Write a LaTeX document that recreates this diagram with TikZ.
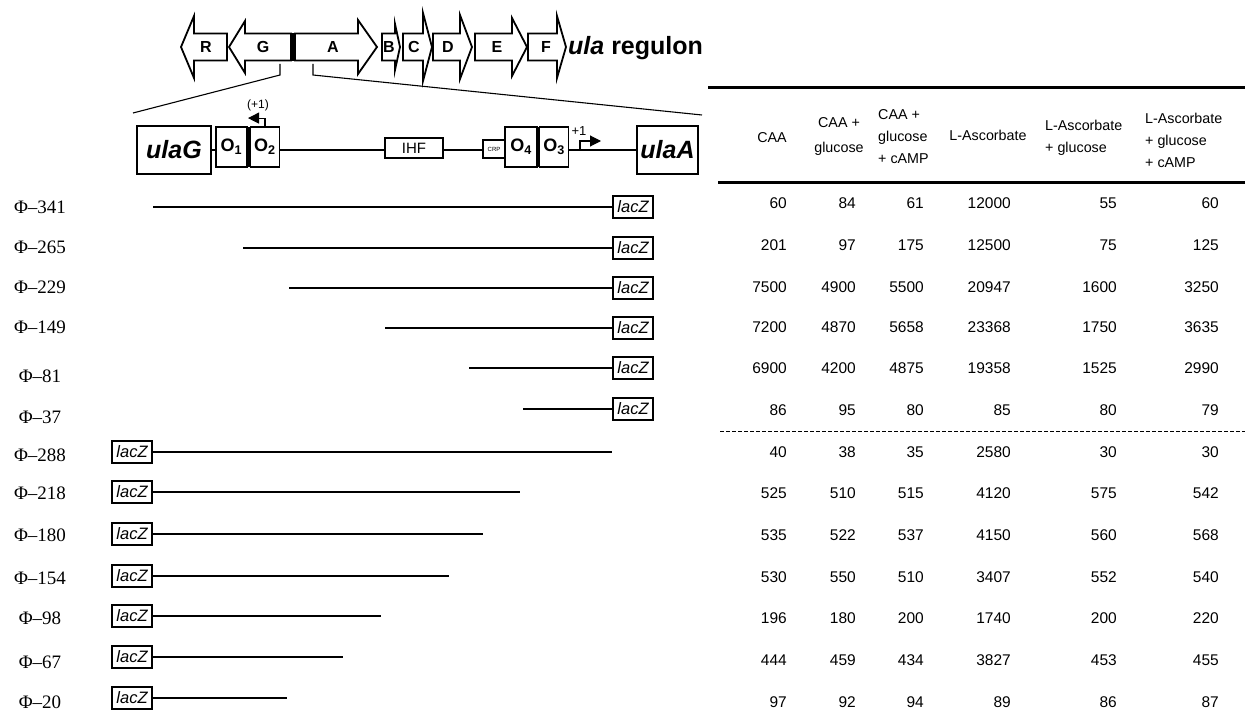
\documentclass[tikz,border=0pt]{standalone}
\usepackage{fontspec}
\setmainfont{Liberation Serif}
\setsansfont{Liberation Sans}
\usetikzlibrary{arrows.meta}
\newcommand\generight[4]{\draw[gene] (#1,33.5) -- (#2,33.5) -- (#2,{47-#4}) -- (#3,47) -- (#2,{47+#4}) -- (#2,60.5) -- (#1,60.5) -- cycle;}
\newcommand\geneleft[4]{\draw[gene] (#3,33.5) -- (#2,33.5) -- (#2,{47-#4}) -- (#1,47) -- (#2,{47+#4}) -- (#2,60.5) -- (#3,60.5) -- cycle;}
\begin{document}
\begin{tikzpicture}[x=1pt,y=-1pt,
  gene/.style={draw, line width=1.8pt, line join=miter, fill=white},
  glabel/.style={font=\sffamily\bfseries\fontsize{16}{16}\selectfont, inner sep=0pt},
  box/.style={draw, line width=1.8pt, inner sep=0pt, fill=white},
  link/.style={line width=1.1pt},
  cline/.style={line width=1.6pt},
  lacz/.style={draw, line width=1.7pt, inner sep=0pt, minimum width=40, minimum height=22, font=\sffamily\itshape\fontsize{16.5}{16.5}\selectfont},
  phil/.style={font=\fontsize{19}{19}\selectfont, inner sep=0pt},
  hdr/.style={font=\sffamily\fontsize{14.3}{22}\selectfont, inner sep=0pt},
  num/.style={font=\sffamily\fontsize{15.5}{18}\selectfont, inner sep=0pt, anchor=east},
  tss/.style={link, -{Triangle[length=11pt,width=11pt]}}
]
\useasboundingbox (0,0) rectangle (1245,722);

% ---- gene map ----
\geneleft{181}{194}{227}{31}
\geneleft{229}{245}{291}{26}
\generight{295}{358}{377}{27}
\fill (290,32.6) rectangle (296,61.4);
\generight{382}{395}{400}{23}
\generight{403}{423}{432}{34}
\generight{433}{460}{472}{32}
\generight{475}{512}{527}{29}
\generight{528}{557}{566}{31}
\node[glabel] (gR) at (206,47) {R};
\node[glabel] (gG) at (263,47) {G};
\node[glabel] (gA) at (333,47) {A};
\node[glabel] (gB) at (389,47) {B};
\node[glabel] (gC) at (414,47) {C};
\node[glabel] (gD) at (448,47) {D};
\node[glabel] (gE) at (497,47) {E};
\node[glabel] (gF) at (546,47) {F};
\node[anchor=west, inner sep=0pt, font=\sffamily\bfseries\fontsize{25}{25}\selectfont] (regulon) at (568,48) {{\itshape ula} regulon};

% ---- zoom lines ----
\coordinate (tkL) at (280,64);
\coordinate (tkR) at (313,64);
\coordinate (zL) at (133,113);
\coordinate (zR) at (702,115);
\draw[link] (tkL) -- ++(0,11) -- (zL);
\draw[link] (tkR) -- ++(0,11) -- (zR);

% ---- promoter region ----
\node[box, minimum width=74, minimum height=48, font=\sffamily\bfseries\itshape\fontsize{25}{25}\selectfont] (ulaG) at (174,150) {ulaG};
\node[box, minimum width=31, minimum height=40, font=\sffamily\bfseries\fontsize{18}{18}\selectfont] (O1) at (231.5,147) {O\textsubscript{1}};
\node[box, minimum width=29, minimum height=40, font=\sffamily\bfseries\fontsize{18}{18}\selectfont] (O2) at (265,147) {O\textsubscript{2}};
\fill (247,127) rectangle (251,167);
\node[box, line width=1.5pt, minimum width=58, minimum height=20, font=\sffamily\fontsize{15}{15}\selectfont] (IHF) at (414,148) {IHF};
\node[box, line width=1.5pt, minimum width=22, minimum height=18, font=\sffamily\fontsize{6}{6}\selectfont] (CRP) at (494,149) {CRP};
\node[box, minimum width=32, minimum height=40, font=\sffamily\bfseries\fontsize{18}{18}\selectfont] (O4) at (521,147) {O\textsubscript{4}};
\node[box, minimum width=29, minimum height=40, font=\sffamily\bfseries\fontsize{18}{18}\selectfont] (O3) at (554,147) {O\textsubscript{3}};
\fill (537,127) rectangle (540,167);
\node[box, minimum width=61, minimum height=48, font=\sffamily\bfseries\itshape\fontsize{25}{25}\selectfont] (ulaA) at (667.5,150) {ulaA};
\draw[link] (ulaG.east) -- (O1.west |- ulaG.east);
\draw[link] (O2.east |- ulaG.east) -- (IHF.west |- ulaG.east);
\draw[link] (IHF.east |- ulaG.east) -- (CRP.west |- ulaG.east);
\draw[link] (O3.east |- ulaG.east) -- (ulaA.west |- ulaG.east);
\draw[tss] (O2.north) -- ++(0,-8) -- ++(-17,0);
\node[font=\sffamily\fontsize{12}{12}\selectfont, inner sep=0pt] (plusG) at (258,105) {(+1)};
\coordinate (tssA) at (580,150);
\draw[tss] (tssA) -- ++(0,-9) -- ++(21,0);
\node[font=\sffamily\fontsize{13}{13}\selectfont, inner sep=0pt] (plusA) at (579,131) {+1};

% ---- constructs, upper group ----
\foreach \n/\ly/\y/\s in {341/207/207/153, 265/247/248/243, 229/287/288/289, 149/327/328/385, 81/376/368/469, 37/417/409/523}{
  \node[phil] (L\n) at (40,\ly) {Φ–\n};
  \node[lacz] (Z\n) at (633,\y) {lacZ};
  \coordinate (S\n) at (\s,\y);
  \draw[cline] (S\n) -- (Z\n.west);
}
% ---- constructs, lower group ----
\foreach \n/\ly/\y/\e in {288/455/452/612, 218/493/492/520, 180/535/534/483, 154/578/576/449, 98/618/616/381, 67/662/657/343, 20/702/698/287}{
  \node[phil] (L\n) at (40,\ly) {Φ–\n};
  \node[lacz] (Z\n) at (132,\y) {lacZ};
  \coordinate (E\n) at (\e,\y);
  \draw[cline] (Z\n.east) -- (E\n);
}

% ---- table ----
\draw[line width=3pt] (708,88) -- (1245,88);
\draw[line width=3pt] (718,183) -- (1245,183);
\draw[line width=1pt, dash pattern=on 4pt off 2pt] (720,431) -- (1245,431);
\node[hdr] (h1) at (772,138) {CAA};
\node[hdr, align=center, font=\sffamily\fontsize{14.3}{25}\selectfont] (h2) at (839,136) {CAA +\\glucose};
\node[hdr, align=left, anchor=west] (h3) at (878,137) {CAA +\\glucose\\+ cAMP};
\node[hdr] (h4) at (988,135) {L-Ascorbate};
\node[hdr, align=left, anchor=west] (h5) at (1045,138) {L-Ascorbate\\+ glucose};
\node[hdr, align=left, anchor=west] (h6) at (1145,140) {L-Ascorbate\\+ glucose\\+ cAMP};

\foreach \r/\y/\vals in {
  1/203/{60,84,61,12000,55,60},
  2/245/{201,97,175,12500,75,125},
  3/287/{7500,4900,5500,20947,1600,3250},
  4/327/{7200,4870,5658,23368,1750,3635},
  5/368/{6900,4200,4875,19358,1525,2990},
  6/410/{86,95,80,85,80,79},
  7/452/{40,38,35,2580,30,30},
  8/493/{525,510,515,4120,575,542},
  9/535/{535,522,537,4150,560,568},
  10/577/{530,550,510,3407,552,540},
  11/618/{196,180,200,1740,200,220},
  12/660/{444,459,434,3827,453,455},
  13/702/{97,92,94,89,86,87}}{
  \foreach \v [count=\c] in \vals {
    \pgfmathsetmacro{\cx}{{787,856,924,1011,1117,1219}[\c-1]}
    \node[num] (t\r-\c) at (\cx,\y) {\v};
  }
}
\end{tikzpicture}
\end{document}
